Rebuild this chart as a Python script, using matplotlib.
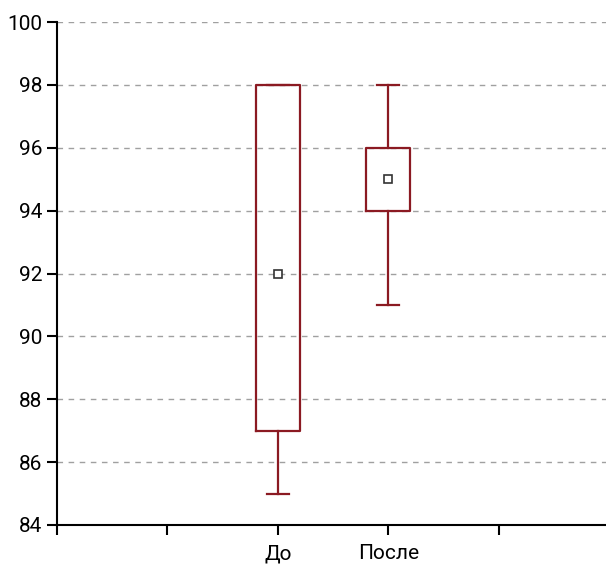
import matplotlib.pyplot as plt

plt.rcParams['font.family'] = ['Liberation Sans Narrow', 'Roboto', 'DejaVu Sans']

labels = ['До', 'После']
positions = [2, 3]
whislo = [85, 91]
q1 = [87, 94]
center = [92, 95]
q3 = [98, 96]
whishi = [98, 98]

stats = []
for i in range(len(labels)):
    stats.append({'label': labels[i], 'whislo': whislo[i], 'q1': q1[i],
                  'med': center[i], 'mean': center[i], 'q3': q3[i],
                  'whishi': whishi[i], 'fliers': []})

red = '#8b1a22'
fig = plt.figure(figsize=(6.06, 5.69), dpi=100)
ax = fig.add_axes([57 / 606, 44 / 569, 1 - 57 / 606, 503 / 569])

ax.bxp(stats, positions=positions, widths=0.4, showmeans=True,
       boxprops=dict(color=red, linewidth=1.6),
       whiskerprops=dict(color=red, linewidth=1.6),
       capprops=dict(color=red, linewidth=1.6),
       medianprops=dict(linewidth=0),
       meanprops=dict(marker='s', markersize=6, markerfacecolor='white',
                      markeredgecolor='#333333', markeredgewidth=1.2),
       capwidths=0.2, zorder=3)

ax.set_xlim(0, 4.97)
ax.set_ylim(84, 100)
ax.set_xticks([0, 1, 2, 3, 4])
ax.set_xticklabels(['', '', 'До', 'После', ''])
ax.set_yticks(range(84, 101, 2))
for y in range(86, 101, 2):
    ax.axhline(y, color='#a0a0a0', linestyle=(0, (4, 4)), linewidth=1, zorder=1)

ax.spines['top'].set_visible(False)
ax.spines['right'].set_visible(False)
ax.spines['left'].set_linewidth(1.5)
ax.spines['bottom'].set_linewidth(1.5)
ax.tick_params(axis='both', direction='out', length=7, width=1.5, labelsize=15)
ax.tick_params(axis='x', pad=7)

fig.savefig('out.png', dpi=100)
